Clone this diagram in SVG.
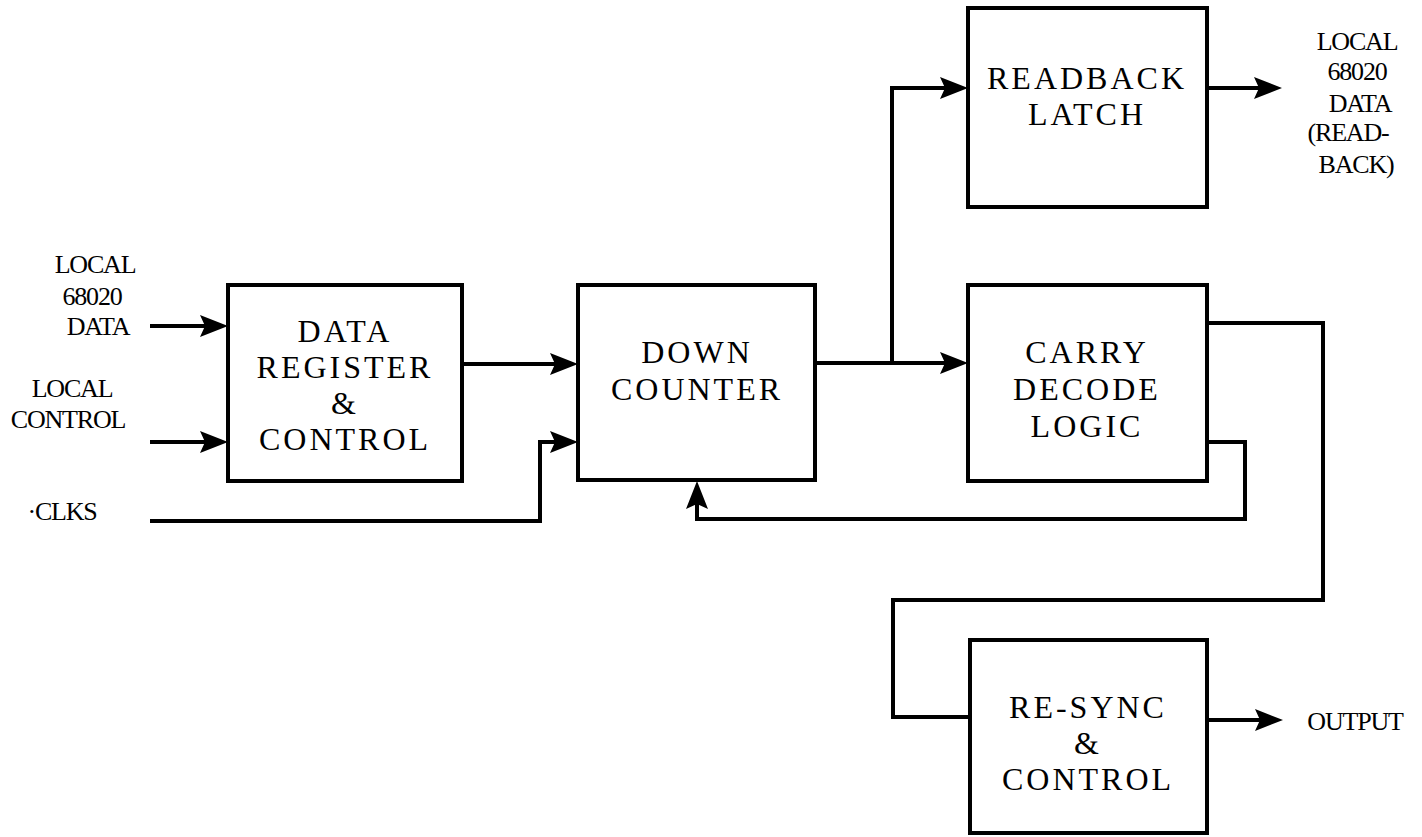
<svg xmlns="http://www.w3.org/2000/svg" width="1422" height="837" viewBox="0 0 1422 837">
<style>
.box{fill:none;stroke:#000;stroke-width:4}
.ln{fill:none;stroke:#000;stroke-width:4;stroke-linejoin:miter}
.bt{font-family:"Liberation Serif","Times New Roman",serif;font-size:32px;letter-spacing:3px;text-anchor:middle;fill:#000}
.lb{font-family:"Liberation Serif","Times New Roman",serif;font-size:26px;letter-spacing:-1.2px;text-anchor:middle;fill:#000}
</style>
<defs>
<marker id="arr" viewBox="0 0 28 22" refX="22" refY="11" markerWidth="28" markerHeight="22" markerUnits="userSpaceOnUse" orient="auto">
<path d="M0,0 L28,11 L0,22 L5,11 Z" fill="#000"/>
</marker>
</defs>
<rect width="1422" height="837" fill="#fff"/>

<g id="connectors">
<path class="ln" d="M150,326 H222" marker-end="url(#arr)"/>
<path class="ln" d="M150,442 H222" marker-end="url(#arr)"/>
<path class="ln" d="M150,521 H540 V442 H572" marker-end="url(#arr)"/>
<path class="ln" d="M462,364 H572" marker-end="url(#arr)"/>
<path class="ln" d="M815,363 H962" marker-end="url(#arr)"/>
<path class="ln" d="M892,363 V88 H962" marker-end="url(#arr)"/>
<path class="ln" d="M1207,88 H1276" marker-end="url(#arr)"/>
<path class="ln" d="M1207,323 H1323 V600 H893 V717 H970"/>
<path class="ln" d="M1207,442 H1245 V519 H697 V487" marker-end="url(#arr)"/>
<path class="ln" d="M1207,720 H1277" marker-end="url(#arr)"/>
</g>

<g id="data-register">
<rect class="box" x="228" y="285" width="234" height="196"/>
<text class="bt" x="345" y="342">DATA</text>
<text class="bt" x="345" y="378">REGISTER</text>
<text class="bt" x="345" y="414">&amp;</text>
<text class="bt" x="345" y="450">CONTROL</text>
</g>

<g id="down-counter">
<rect class="box" x="578" y="285" width="237" height="195"/>
<text class="bt" x="697" y="363">DOWN</text>
<text class="bt" x="697" y="400">COUNTER</text>
</g>

<g id="readback-latch">
<rect class="box" x="968" y="8" width="239" height="199"/>
<text class="bt" x="1087" y="89">READBACK</text>
<text class="bt" x="1087" y="125">LATCH</text>
</g>

<g id="carry-decode">
<rect class="box" x="968" y="285" width="239" height="196"/>
<text class="bt" x="1087" y="363">CARRY</text>
<text class="bt" x="1087" y="400">DECODE</text>
<text class="bt" x="1087" y="437">LOGIC</text>
</g>

<g id="resync-control">
<rect class="box" x="970" y="640" width="237" height="193"/>
<text class="bt" x="1088" y="718">RE-SYNC</text>
<text class="bt" x="1088" y="754">&amp;</text>
<text class="bt" x="1088" y="790">CONTROL</text>
</g>

<g id="label-local-data">
<text class="lb" x="95" y="273">LOCAL</text>
<text class="lb" x="92" y="305">68020</text>
<text class="lb" x="98" y="335">DATA</text>
</g>
<g id="label-local-control">
<text class="lb" x="72" y="397">LOCAL</text>
<text class="lb" x="68" y="428">CONTROL</text>
</g>
<g id="label-clks">
<text class="lb" x="62" y="520">·CLKS</text>
</g>
<g id="label-readback-out">
<text class="lb" x="1357" y="50">LOCAL</text>
<text class="lb" x="1357" y="80">68020</text>
<text class="lb" x="1360" y="112">DATA</text>
<text class="lb" x="1348" y="141">(READ-</text>
<text class="lb" x="1356" y="173">BACK)</text>
</g>
<g id="label-output">
<text class="lb" x="1355" y="730">OUTPUT</text>
</g>
</svg>
